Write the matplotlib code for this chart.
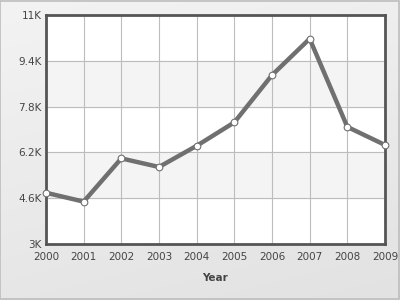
import numpy as np
import matplotlib
matplotlib.use('Agg')
import matplotlib.pyplot as plt
from matplotlib.patches import Rectangle
from matplotlib.colors import LinearSegmentedColormap
from matplotlib.ticker import FixedLocator

years = [2000, 2001, 2002, 2003, 2004, 2005, 2006, 2007, 2008, 2009]
values = [4.79, 4.48, 5.99, 5.69, 6.43, 7.25, 8.90, 10.17, 7.09, 6.46]
y_ticks = [3.0, 4.6, 6.2, 7.8, 9.4, 11.0]
y_labels = ['3K', '4.6K', '6.2K', '7.8K', '9.4K', '11K']

fig = plt.figure(figsize=(4, 3), dpi=100)

# background gradient, light grey at the top, a bit darker at the bottom
bg = fig.add_axes([0, 0, 1, 1], zorder=-10)
cmap = LinearSegmentedColormap.from_list('bg', ['#f3f3f3', '#e2e2e2'])
gx, gy = np.meshgrid(np.linspace(0, 1, 200), np.linspace(0, 1, 150))
bg.imshow(0.75 * gy + 0.25 * gx, aspect='auto', cmap=cmap, vmin=0, vmax=1,
          extent=[0, 1, 0, 1], origin='upper')
bg.set_xlim(0, 1)
bg.set_ylim(0, 1)
bg.axis('off')
fig.patches.append(Rectangle((0.001, 0.002), 0.997, 0.995, transform=fig.transFigure,
                             fill=False, edgecolor='#bdbdbd', lw=1.2))

ax = fig.add_axes([0.115, 0.1867, 0.8475, 0.7633])
ax.set_facecolor('white')

# alternating bands
for i in range(len(y_ticks) - 1):
    if i % 2 == 1:
        ax.axhspan(y_ticks[i], y_ticks[i + 1], color='#f4f4f4', zorder=0)

ax.set_xlim(years[0], years[-1])
ax.set_ylim(y_ticks[0], y_ticks[-1])
ax.xaxis.set_major_locator(FixedLocator(years))
ax.set_yticks(y_ticks)
ax.set_yticklabels(y_labels)
ax.grid(True, color='#bdbdbd', lw=0.8, zorder=1)
ax.set_axisbelow(True)

ax.plot(years, values, color='#707070', lw=3.2, zorder=3, solid_capstyle='round',
        marker='o', markersize=4.8, markerfacecolor='white',
        markeredgecolor='#707070', markeredgewidth=0.8, clip_on=False)

for s in ax.spines.values():
    s.set_color('#555555')
    s.set_linewidth(2)

ax.tick_params(length=0, labelsize=7.5, labelcolor='#444444')
ax.tick_params(axis='x', pad=6)
ax.tick_params(axis='y', pad=3)
ax.set_xlabel('Year', fontsize=7.5, fontweight='bold', color='#444444', labelpad=8)

fig.savefig('out.png', dpi=100)
